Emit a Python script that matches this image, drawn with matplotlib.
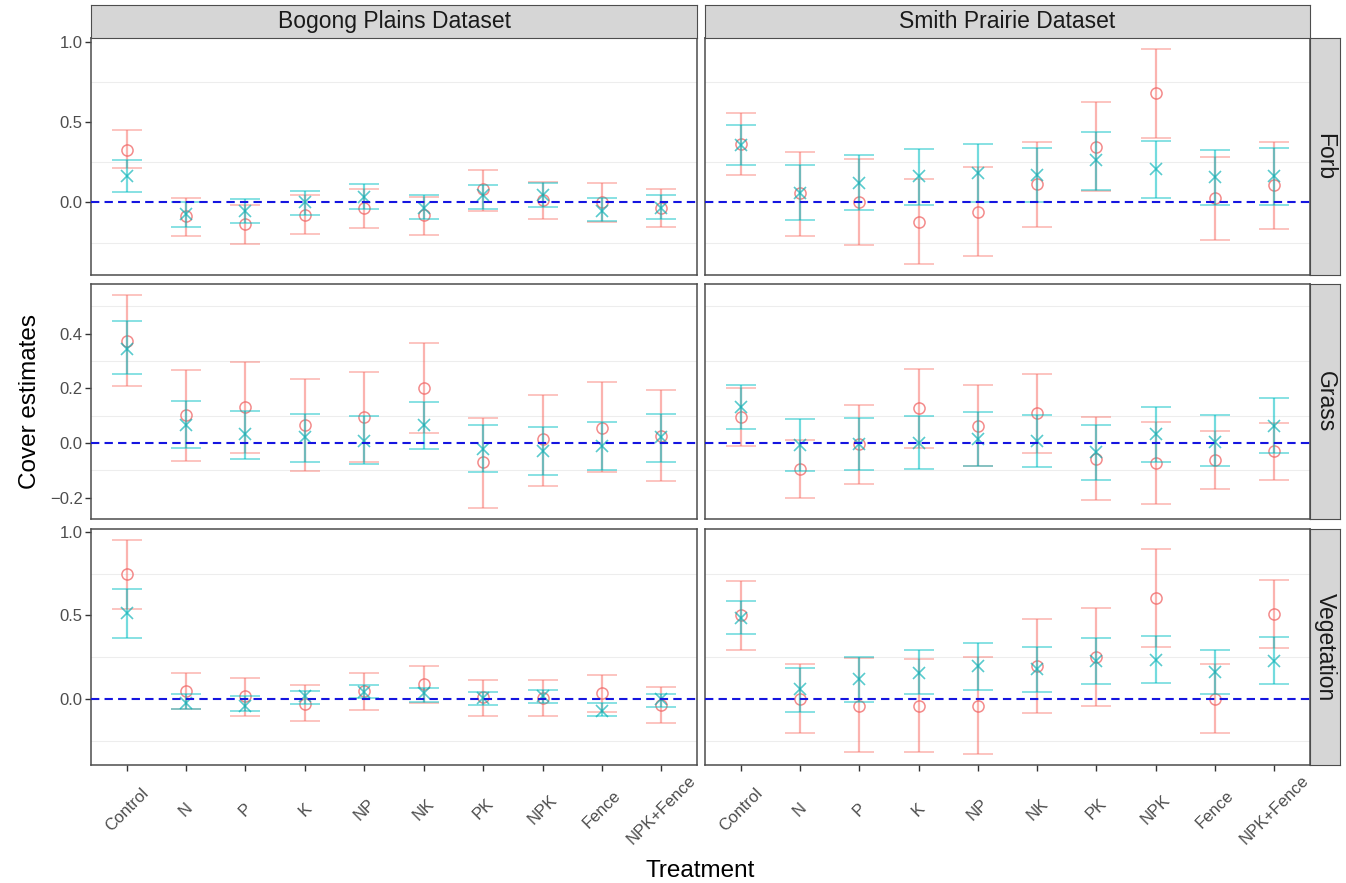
import numpy as np
import matplotlib.pyplot as plt

plt.rcParams['font.family'] = ['Liberation Sans', 'DejaVu Sans']

treatments = ["Control", "N", "P", "K", "NP", "NK", "PK", "NPK", "Fence", "NPK+Fence"]
datasets = ["Bogong Plains Dataset", "Smith Prairie Dataset"]
groups = ["Forb", "Grass", "Vegetation"]

# pink circles (estimate, lower, upper) and teal crosses (estimate, lower, upper)
bp_forb_o = [0.33, -0.085, -0.133, -0.077, -0.037, -0.077, 0.081, 0.015, 0.004, -0.037]
bp_forb_o_lo = [0.217, -0.206, -0.26, -0.196, -0.158, -0.2, -0.054, -0.106, -0.12, -0.153]
bp_forb_o_hi = [0.45, 0.029, -0.017, 0.044, 0.081, 0.035, 0.2, 0.127, 0.119, 0.081]
bp_forb_x = [0.165, -0.075, -0.054, 0.0, 0.035, -0.033, 0.046, 0.048, -0.054, -0.033]
bp_forb_x_lo = [0.064, -0.153, -0.127, -0.08, -0.038, -0.106, -0.04, -0.029, -0.115, -0.1]
bp_forb_x_hi = [0.2625, 0.0, 0.023, 0.07, 0.114, 0.046, 0.106, 0.12, 0.025, 0.048]

sp_forb_o = [0.3625, 0.056, 0.0, -0.12, -0.058, 0.117, 0.346, 0.681, 0.025, 0.108]
sp_forb_o_lo = [0.169, -0.208, -0.267, -0.385, -0.335, -0.154, 0.071, 0.404, -0.235, -0.163]
sp_forb_o_hi = [0.558, 0.317, 0.269, 0.146, 0.223, 0.379, 0.625, 0.958, 0.283, 0.377]
sp_forb_x = [0.358, 0.06, 0.123, 0.165, 0.185, 0.169, 0.2625, 0.206, 0.156, 0.165]
sp_forb_x_lo = [0.231, -0.11, -0.05, -0.017, 0.006, 0.0, 0.075, 0.025, -0.017, -0.017]
sp_forb_x_hi = [0.483, 0.231, 0.294, 0.331, 0.3625, 0.339, 0.4375, 0.383, 0.327, 0.342]

bp_grass_o = [0.373, 0.102, 0.131, 0.065, 0.096, 0.201, -0.071, 0.013, 0.056, 0.025]
bp_grass_o_lo = [0.207, -0.065, -0.037, -0.102, -0.071, 0.035, -0.239, -0.156, -0.108, -0.139]
bp_grass_o_hi = [0.542, 0.268, 0.295, 0.232, 0.26, 0.367, 0.093, 0.177, 0.221, 0.192]
bp_grass_x = [0.344, 0.065, 0.032, 0.02, 0.008, 0.065, -0.021, -0.029, -0.011, 0.022]
bp_grass_x_lo = [0.251, -0.019, -0.057, -0.069, -0.077, -0.023, -0.108, -0.116, -0.098, -0.068]
bp_grass_x_hi = [0.444, 0.155, 0.118, 0.104, 0.097, 0.15, 0.067, 0.058, 0.076, 0.107]

sp_grass_o = [0.095, -0.096, -0.005, 0.126, 0.062, 0.11, -0.059, -0.075, -0.063, -0.031]
sp_grass_o_lo = [-0.013, -0.2, -0.149, -0.019, -0.086, -0.035, -0.208, -0.223, -0.168, -0.137]
sp_grass_o_hi = [0.201, 0.012, 0.137, 0.269, 0.212, 0.253, 0.095, 0.076, 0.044, 0.074]
sp_grass_x = [0.132, -0.008, -0.005, -0.001, 0.016, 0.007, -0.033, 0.032, 0.004, 0.062]
sp_grass_x_lo = [0.05, -0.102, -0.1, -0.096, -0.086, -0.087, -0.136, -0.068, -0.085, -0.036]
sp_grass_x_hi = [0.21, 0.089, 0.092, 0.097, 0.113, 0.103, 0.065, 0.131, 0.102, 0.165]

bp_veg_o = [0.746, 0.051, 0.016, -0.028, 0.049, 0.091, 0.012, 0.006, 0.039, -0.036]
bp_veg_o_lo = [0.537, -0.058, -0.098, -0.133, -0.064, -0.02, -0.103, -0.103, -0.074, -0.143]
bp_veg_o_hi = [0.952, 0.158, 0.125, 0.085, 0.158, 0.2, 0.115, 0.115, 0.146, 0.075]
bp_veg_x = [0.512, -0.02, -0.038, 0.016, 0.045, 0.036, 0.006, 0.02, -0.068, 0.0]
bp_veg_x_lo = [0.367, -0.06, -0.068, -0.028, 0.006, -0.014, -0.034, -0.024, -0.103, -0.048]
bp_veg_x_hi = [0.655, 0.03, 0.016, 0.049, 0.085, 0.069, 0.045, 0.054, -0.02, 0.032]

sp_veg_o = [0.502, 0.002, -0.038, -0.038, -0.038, 0.2, 0.254, 0.605, 0.0, 0.506]
sp_veg_o_lo = [0.293, -0.202, -0.315, -0.315, -0.329, -0.083, -0.04, 0.313, -0.202, 0.304]
sp_veg_o_hi = [0.704, 0.208, 0.244, 0.238, 0.254, 0.476, 0.543, 0.895, 0.208, 0.714]
sp_veg_x = [0.482, 0.059, 0.119, 0.159, 0.2, 0.18, 0.23, 0.234, 0.161, 0.23]
sp_veg_x_lo = [0.387, -0.077, -0.014, 0.03, 0.057, 0.042, 0.089, 0.095, 0.032, 0.091]
sp_veg_x_hi = [0.585, 0.188, 0.254, 0.293, 0.335, 0.31, 0.367, 0.375, 0.295, 0.369]

yticks_major = {"Forb": [0.0, 0.5, 1.0], "Grass": [-0.2, 0.0, 0.2, 0.4], "Vegetation": [0.0, 0.5, 1.0]}
yticks_minor = {"Forb": [-0.25, 0.25, 0.75], "Grass": [-0.1, 0.1, 0.3, 0.5], "Vegetation": [-0.25, 0.25, 0.75]}

panels = {
    ("Forb", 0): (bp_forb_o, bp_forb_o_lo, bp_forb_o_hi, bp_forb_x, bp_forb_x_lo, bp_forb_x_hi),
    ("Forb", 1): (sp_forb_o, sp_forb_o_lo, sp_forb_o_hi, sp_forb_x, sp_forb_x_lo, sp_forb_x_hi),
    ("Grass", 0): (bp_grass_o, bp_grass_o_lo, bp_grass_o_hi, bp_grass_x, bp_grass_x_lo, bp_grass_x_hi),
    ("Grass", 1): (sp_grass_o, sp_grass_o_lo, sp_grass_o_hi, sp_grass_x, sp_grass_x_lo, sp_grass_x_hi),
    ("Vegetation", 0): (bp_veg_o, bp_veg_o_lo, bp_veg_o_hi, bp_veg_x, bp_veg_x_lo, bp_veg_x_hi),
    ("Vegetation", 1): (sp_veg_o, sp_veg_o_lo, sp_veg_o_hi, sp_veg_x, sp_veg_x_lo, sp_veg_x_hi),
}

pink = (248 / 255, 118 / 255, 109 / 255, 0.55)
pink_pt = (240 / 255, 100 / 255, 100 / 255, 0.75)
teal = (0 / 255, 191 / 255, 196 / 255, 0.55)
teal_pt = (0 / 255, 175 / 255, 180 / 255, 0.65)
frame = '#4D4D4D'
strip_fill = '#D6D6D6'

W, H = 1346, 883
fig = plt.figure(figsize=(W / 100, H / 100), dpi=100)


def box(l, t, r, b):
    return [l / W, 1 - b / H, (r - l) / W, (b - t) / H]


col_lr = [(91, 697), (705, 1310)]
row_tb = [(38, 275), (284, 519), (529, 765)]
pos = np.arange(1, len(treatments) + 1)

for i, grp in enumerate(groups):
    # shared y range per row, ggplot-style 5% expansion
    vals = np.concatenate([np.ravel(panels[(grp, j)]) for j in range(2)])
    span = vals.max() - vals.min()
    ylim = (vals.min() - 0.05 * span, vals.max() + 0.05 * span)

    for j in range(2):
        o, olo, ohi, xe, xlo, xhi = [np.array(v) for v in panels[(grp, j)]]
        ax = fig.add_axes(box(col_lr[j][0], row_tb[i][0], col_lr[j][1], row_tb[i][1]))

        ax.errorbar(pos, o, yerr=[o - olo, ohi - o], fmt='o', mfc='none', mec=pink_pt,
                    ms=8, mew=1.1, ecolor=pink, elinewidth=1.6, capsize=10.5, capthick=2.4, zorder=3)
        ax.errorbar(pos, xe, yerr=[xe - xlo, xhi - xe], fmt='x', mec=teal_pt,
                    ms=8, mew=1.2, ecolor=teal, elinewidth=1.6, capsize=10.5, capthick=2.4, zorder=4)
        ax.axhline(0, color='#1515E0', ls=(0, (4, 2.5)), lw=1.5, zorder=6)

        ax.set_xlim(0.4, len(treatments) + 0.6)
        ax.set_ylim(*ylim)
        ax.set_yticks(yticks_major[grp])
        ax.set_yticklabels([f"{v:.1f}".replace('-', '\u2212') for v in yticks_major[grp]])
        ax.set_yticks(yticks_minor[grp], minor=True)
        ax.grid(which='minor', axis='y', color='#EDEDED', lw=0.8)
        ax.set_axisbelow(True)
        ax.tick_params(which='minor', length=0)
        ax.tick_params(which='major', length=4, width=1, color='#333333',
                       labelsize=12, labelcolor='#4D4D4D', pad=2)
        ax.set_xticks(pos)
        for s in ax.spines.values():
            s.set_color(frame)
            s.set_linewidth(1.1)

        if j == 1:
            ax.tick_params(left=False, labelleft=False)
        if i < 2:
            ax.tick_params(bottom=False, labelbottom=False)
        else:
            ax.set_xticklabels(treatments, rotation=45, ha='center', va='center')
            ax.tick_params(axis='x', pad=28)

    # right-hand strip for the row
    st = fig.add_axes(box(1310, row_tb[i][0], 1340, row_tb[i][1]))
    st.set_facecolor(strip_fill)
    st.set_xticks([])
    st.set_yticks([])
    for s in st.spines.values():
        s.set_color(frame)
    st.text(0.5, 0.5, grp, rotation=-90, ha='center', va='center',
            fontsize=16.5, color='#1A1A1A', transform=st.transAxes)

for j, ds in enumerate(datasets):
    st = fig.add_axes(box(col_lr[j][0], 5, col_lr[j][1], 38))
    st.set_facecolor(strip_fill)
    st.set_xticks([])
    st.set_yticks([])
    for s in st.spines.values():
        s.set_color(frame)
    st.text(0.5, 0.5, ds, ha='center', va='center', fontsize=16.5,
            color='#1A1A1A', transform=st.transAxes)

fig.text(30 / W, 1 - 402 / H, "Cover estimates", rotation=90, ha='center', va='center', fontsize=17.5)
fig.text(700 / W, 1 - 871 / H, "Treatment", ha='center', va='center', fontsize=17.5)

fig.savefig("out.png", dpi=100)
